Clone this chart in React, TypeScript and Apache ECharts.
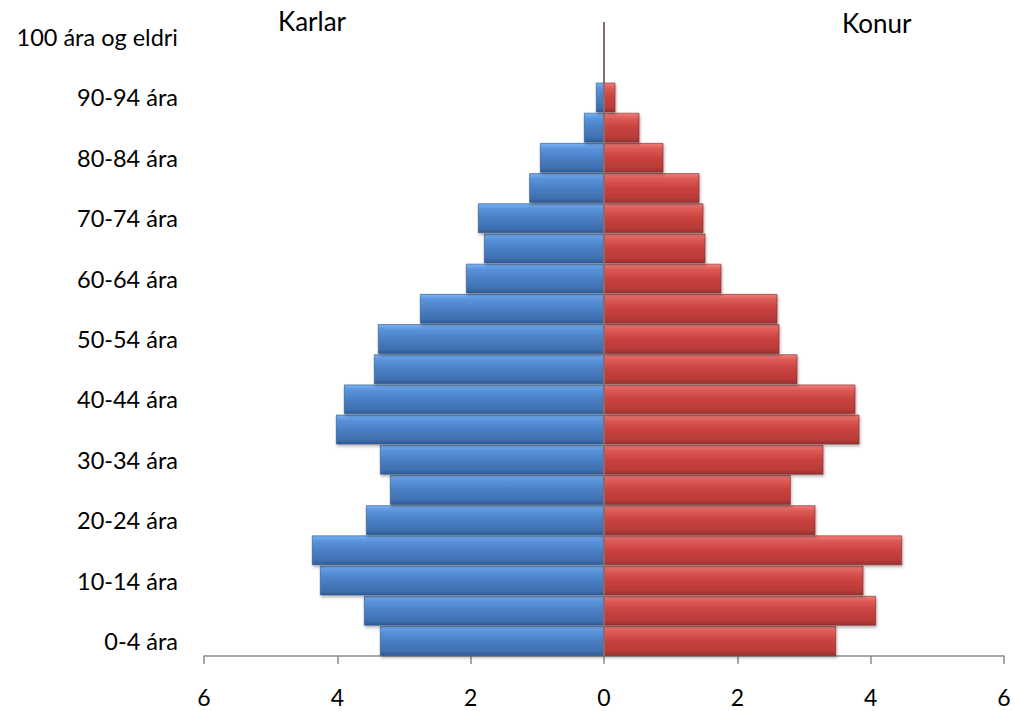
import React, { useEffect, useRef } from "react";
import * as echarts from "echarts";

const categories = [
  "0-4 ára", "5-9 ára", "10-14 ára", "15-19 ára", "20-24 ára", "25-29 ára",
  "30-34 ára", "35-39 ára", "40-44 ára", "45-49 ára", "50-54 ára", "55-59 ára",
  "60-64 ára", "65-69 ára", "70-74 ára", "75-79 ára", "80-84 ára", "85-89 ára",
  "90-94 ára", "95-99 ára", "100 ára og eldri",
];

const karlar = [
  3.36, 3.6, 4.26, 4.38, 3.57, 3.21, 3.36, 4.02, 3.9, 3.45, 3.39, 2.76,
  2.07, 1.8, 1.89, 1.12, 0.96, 0.3, 0.12, 0.0, 0.0,
];

const konur = [
  3.48, 4.08, 3.89, 4.47, 3.17, 2.8, 3.29, 3.83, 3.77, 2.9, 2.63, 2.6,
  1.76, 1.52, 1.49, 1.43, 0.89, 0.53, 0.17, 0.0, 0.0,
];

const xTicks = { min: -6, max: 6, interval: 2 };

const FONT = "Lato, 'Open Sans', sans-serif";

export default function App() {
  const ref = useRef<HTMLDivElement>(null);

  useEffect(() => {
    if (!ref.current) return;
    const chart = echarts.init(ref.current, undefined, { renderer: "svg" });

    const blueGrad = new echarts.graphic.LinearGradient(0, 0, 0, 1, [
      { offset: 0, color: "#7ab2f2" },
      { offset: 0.18, color: "#5a93dd" },
      { offset: 0.5, color: "#4a7fc4" },
      { offset: 0.85, color: "#3f70b0" },
      { offset: 1, color: "#2f5a94" },
    ]);
    const redGrad = new echarts.graphic.LinearGradient(0, 0, 0, 1, [
      { offset: 0, color: "#f27e7a" },
      { offset: 0.18, color: "#dc5a56" },
      { offset: 0.5, color: "#c9423f" },
      { offset: 0.85, color: "#b83b38" },
      { offset: 1, color: "#983130" },
    ]);

    chart.setOption({
      animation: false,
      backgroundColor: "#ffffff",
      grid: {
        left: 204,
        right: 10,
        top: 22,
        bottom: 55,
        containLabel: false,
        outerBoundsMode: "none",
      },
      xAxis: {
        type: "value",
        min: xTicks.min,
        max: xTicks.max,
        interval: xTicks.interval,
        axisLine: { show: true, onZero: false, lineStyle: { color: "#8c8c8c", width: 1.5 } },
        axisTick: { show: true, inside: false, length: 8, lineStyle: { color: "#8c8c8c", width: 1.5 } },
        splitLine: { show: false },
        axisLabel: {
          margin: 29,
          fontSize: 23,
          fontFamily: FONT,
          color: "#000",
          formatter: (v: number) => String(Math.abs(v)),
        },
      },
      yAxis: {
        type: "category",
        data: categories,
        axisLine: { show: false },
        axisTick: { show: false },
        axisLabel: {
          interval: 1,
          margin: 26,
          fontSize: 23.5,
          fontFamily: FONT,
          color: "#000",
        },
      },
      series: [
        {
          name: "Karlar",
          type: "bar",
          stack: "pop",
          barCategoryGap: "2%",
          data: karlar.map((v) => -v),
          itemStyle: {
            color: blueGrad,
            borderColor: "#2c5287",
            borderWidth: 0.6,
            shadowColor: "rgba(0,0,0,0.3)",
            shadowBlur: 3,
            shadowOffsetX: 1,
            shadowOffsetY: 2,
          },
        },
        {
          name: "Konur",
          type: "bar",
          stack: "pop",
          barCategoryGap: "2%",
          data: konur,
          itemStyle: {
            color: redGrad,
            borderColor: "#7e2a28",
            borderWidth: 0.6,
            shadowColor: "rgba(0,0,0,0.3)",
            shadowBlur: 3,
            shadowOffsetX: 1,
            shadowOffsetY: 2,
          },
          markLine: {
            silent: true,
            symbol: ["none", "none"],
            label: { show: false },
            lineStyle: { color: "#8a6a6a", width: 2, type: "solid" },
            data: [{ xAxis: 0 }],
          },
        },
      ],
      graphic: [
        {
          type: "text",
          left: 278,
          top: 8,
          style: { text: "Karlar", fontSize: 26, fontFamily: FONT, fill: "#000" },
        },
        {
          type: "text",
          left: 842,
          top: 10,
          style: { text: "Konur", fontSize: 26, fontFamily: FONT, fill: "#000" },
        },
      ],
    });

    return () => chart.dispose();
  }, []);

  return (
    <div
      ref={ref}
      style={{ position: "absolute", left: 0, top: 0, width: 1014, height: 711 }}
    />
  );
}
